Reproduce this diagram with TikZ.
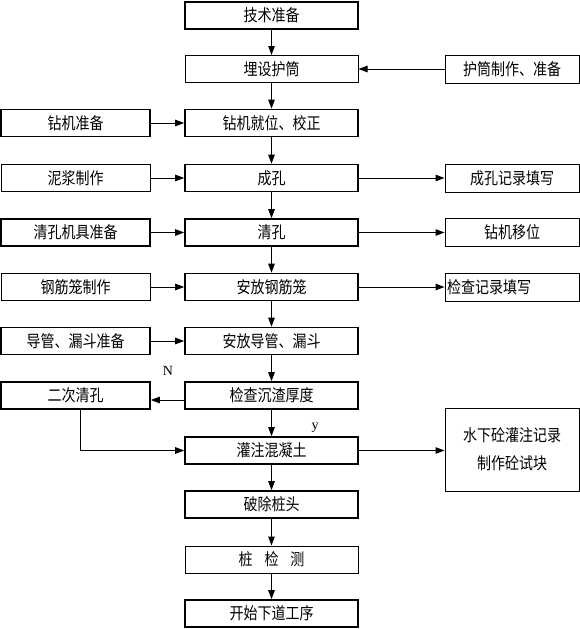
\documentclass[tikz,border=0pt]{standalone}
\usepackage{fontspec}
\usepackage{graphicx}
\newfontfamily\cjk{Noto Sans CJK SC}
\setmainfont{Liberation Serif}
\usetikzlibrary{arrows.meta}
\newcommand\tx[1]{\scalebox{1}[1.18]{#1}}
\tikzset{
  mainbox/.style={draw,line width=1.6pt,rectangle,inner sep=0pt,minimum width=173pt,minimum height=27pt,font=\cjk\fontsize{14}{16}\selectfont},
  leftbox/.style={draw,line width=1.6pt,rectangle,inner sep=0pt,minimum width=149pt,minimum height=27pt,font=\cjk\fontsize{14}{16}\selectfont},
  rightbox/.style={draw,line width=1pt,rectangle,inner sep=0pt,minimum width=134pt,minimum height=28pt,font=\cjk\fontsize{14}{16}\selectfont},
  arr/.style={line width=1pt,-{Triangle[length=9pt,width=6.5pt]}},
  lbl/.style={font=\fontsize{14}{16}\selectfont,inner sep=0pt}
}
\begin{document}
\begin{tikzpicture}[x=1pt,y=-1pt]
\useasboundingbox (0,0) rectangle (580,629);
% main column
\node[mainbox] (a1) at (271.5,15.5) {\tx{技术准备}};
\node[mainbox,line width=1pt] (a2) at (271.5,69) {\tx{埋设护筒}};
\node[mainbox] (a3) at (271.5,123) {\tx{钻机就位、校正}};
\node[mainbox] (a4) at (271.5,178) {\tx{成孔}};
\node[mainbox] (a5) at (271.5,232.5) {\tx{清孔}};
\node[mainbox] (a6) at (271.5,287) {\tx{安放钢筋笼}};
\node[mainbox] (a7) at (271.5,341) {\tx{安放导管、漏斗}};
\node[mainbox] (a8) at (271.5,395.5) {\tx{检查沉渣厚度}};
\node[mainbox] (a9) at (271.5,450.5) {\tx{灌注混凝土}};
\node[mainbox] (a10) at (271.5,504.5) {\tx{破除桩头}};
\node[mainbox,line width=1pt] (a11) at (271.5,559.5) {\tx{桩\hspace{12pt}检\hspace{12pt}测}};
\node[mainbox] (a12) at (271.5,613.5) {\tx{开始下道工序}};
% left column
\node[leftbox] (l3) at (75.5,123) {\tx{钻机准备}};
\node[leftbox,line width=1pt] (l4) at (75.5,178) {\tx{泥浆制作}};
\node[leftbox] (l5) at (75.5,232.5) {\tx{清孔机具准备}};
\node[leftbox,line width=1pt] (l6) at (75.5,287) {\tx{钢筋笼制作}};
\node[leftbox] (l7) at (75.5,341) {\tx{导管、漏斗准备}};
\node[leftbox] (l8) at (75.5,395.5) {\tx{二次清孔}};
% right column
\node[rightbox] (r2) at (512,69) {\tx{护筒制作、准备}};
\node[rightbox] (r4) at (512,178) {\tx{成孔记录填写}};
\node[rightbox] (r5) at (512,232.5) {\tx{钻机移位}};
\node[rightbox,text width=130pt,align=left] (r6) at (512,287) {\tx{检查记录填写}};
\node[rightbox,minimum height=83pt,align=center,font=\cjk\fontsize{14}{28}\selectfont] (r9) at (512,449.5) {\tx{水下砼灌注记录}\\\tx{制作砼试块}};
% vertical arrows
\foreach \i/\j in {a1/a2,a2/a3,a3/a4,a4/a5,a5/a6,a6/a7,a7/a8,a8/a9,a9/a10,a10/a11,a11/a12}
  \draw[arr] (\i) -- (\j);
% left to main
\foreach \i/\j in {l3/a3,l4/a4,l5/a5,l6/a6,l7/a7}
  \draw[arr] (\i) -- (\j);
% main to right
\foreach \i/\j in {a4/r4,a5/r5,a6/r6,a9/r9}
  \draw[arr] (\i.east) -- (\i.east -| \j.west);
\draw[arr] (r2.west) -- (a2.east);
% branch
\draw[arr] (a8.west |- 0,400) -- (l8.east |- 0,400);
\coordinate (c1) at (80,450.5);
\draw[arr] (l8.south -| c1) -- (c1) -- (a9.west);
\node[lbl] (n) at (168,371) {N};
\node[lbl] (y) at (315,428) {y};
\end{tikzpicture}
\end{document}
